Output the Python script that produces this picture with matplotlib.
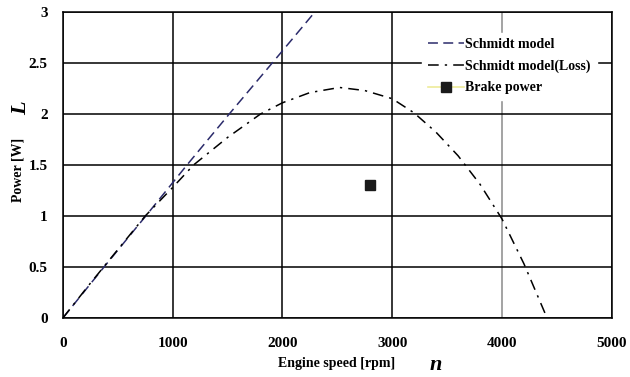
import matplotlib.pyplot as plt
import numpy as np

plt.rcParams['font.family'] = ['Liberation Serif', 'DejaVu Serif']
plt.rcParams['font.weight'] = 'bold'

# Schmidt model (ideal)
schmidt_rpm = [0, 375, 755, 1130, 1515, 2000, 2310]
schmidt_pow = [0, 0.5, 1.0, 1.5, 2.0, 2.62, 3.02]

# Schmidt model with losses
loss_rpm = [0, 250, 500, 750, 1000, 1190, 1500, 1800, 2000, 2250, 2520,
            2750, 3000, 3200, 3400, 3600, 3800, 4000, 4200, 4410]
loss_pow = [0, 0.34, 0.67, 1.0, 1.28, 1.5, 1.77, 2.0, 2.11, 2.21, 2.26,
            2.23, 2.15, 2.01, 1.82, 1.59, 1.31, 0.97, 0.53, 0.0]

# measured brake power
brake_rpm = [2800]
brake_pow = [1.3]

fig = plt.figure(figsize=(6.3, 3.77), dpi=100)
ax = fig.add_axes([0.1, 0.157, 0.871, 0.811])

ax.plot(schmidt_rpm, schmidt_pow, color="#2b2b6b", lw=1.1, dashes=(6.5, 3.5),
        label="Schmidt model")
ax.plot(loss_rpm, loss_pow, color="black", lw=1.1, dashes=(7, 4, 1.5, 4),
        label="Schmidt model(Loss)")
ax.plot(brake_rpm, brake_pow, color="#eeeb9a", marker="s", ms=7,
        mfc="#1a1a1a", mec="#1a1a1a", lw=1.2, label="Brake power")

ax.set_xlim(0, 5000)
ax.set_ylim(0, 3)
ax.set_xticks(np.arange(0, 5001, 1000))
ax.set_yticks(np.arange(0, 3.01, 0.5))
ax.set_yticklabels(["0", "0.5", "1", "1.5", "2", "2.5", "3"])
ax.grid(True, color="black", lw=1.1)
ax.get_xgridlines()[4].set_color("#8a8a8a")
for s in ax.spines.values():
    s.set_linewidth(1.1)
ax.tick_params(length=0, labelsize=11, pad=14)
ax.tick_params(axis='y', pad=11)
for t in ax.get_xticklabels() + ax.get_yticklabels():
    t.set_fontweight('bold')

leg = ax.legend(loc="upper right", bbox_to_anchor=(0.985, 0.955), frameon=True,
                fontsize=10, handlelength=2.6, handletextpad=0.1,
                labelspacing=0.6, borderpad=0.4)
leg.get_frame().set_edgecolor("white")
leg.get_frame().set_facecolor("white")
leg.get_frame().set_alpha(1.0)
leg.get_frame().set_boxstyle("square", pad=0)
for t in leg.get_texts():
    t.set_fontweight('bold')

fig.text(337 / 630, 1 - 364 / 377, "Engine speed [rpm]", ha="center", va="center",
         fontsize=10, fontweight="bold")
fig.text(436 / 630, 1 - 365 / 377, "n", ha="center", va="center",
         fontsize=16, fontweight="bold", style="italic")
fig.text(18 / 630, 1 - 170 / 377, "Power [W]", ha="center", va="center",
         rotation=90, fontsize=10, fontweight="bold")
fig.text(21 / 630, 1 - 108 / 377, "L", ha="center", va="center",
         rotation=90, fontsize=16, fontweight="bold", style="italic")

fig.savefig("out.png", dpi=100)
